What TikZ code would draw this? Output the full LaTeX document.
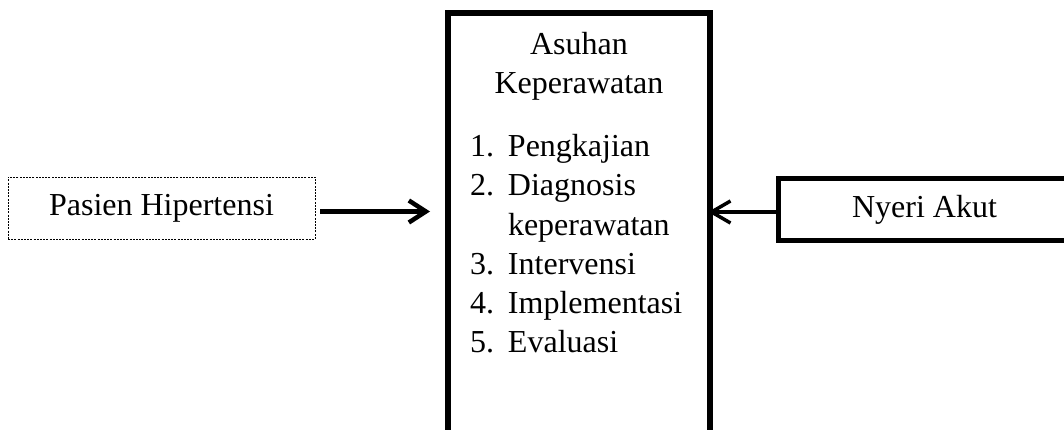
\documentclass[tikz,border=0pt]{standalone}
\usepackage{fontspec}
\setmainfont{Liberation Serif}
\usetikzlibrary{arrows.meta}
\begin{document}
\begin{tikzpicture}[x=1pt,y=-1pt,
  txt/.style={inner sep=0pt,outer sep=0pt,font=\fontsize{32}{39}\selectfont},
  listline/.style={txt,anchor=base west},
  dashbox/.style={draw,line width=0.8pt,dash pattern=on 2pt off 1.2pt,inner sep=0pt,outer sep=0pt,
    minimum width=307pt,minimum height=62pt,font=\fontsize{32}{39}\selectfont},
  bigbox/.style={draw,line width=6pt,inner sep=0pt,outer sep=0pt,minimum width=262pt,minimum height=457pt},
  solidbox/.style={draw,line width=5pt,inner sep=0pt,outer sep=0pt,minimum width=292pt,minimum height=61.5pt,
    font=\fontsize{32}{39}\selectfont},
  arrL/.style={line width=4.5pt,-{Straight Barb[length=17pt,width=22pt]}},
  arrR/.style={line width=3.5pt,-{Straight Barb[length=19pt,width=22pt]}}]
\useasboundingbox (0,0) rectangle (1064,430);
\node[dashbox] (pas) at (161.5,208) {Pasien Hipertensi};
\node[bigbox] (ask) at (579,241.5) {};
\node[solidbox] (nyeri) at (924.5,209.75) {Nyeri Akut};
\node[txt,anchor=base] (t1) at (579,55) {Asuhan};
\node[txt,anchor=base] (t2) at (579,94) {Keperawatan};
\node[listline] (l1) at (470,157) {\makebox[38pt][l]{1.}Pengkajian};
\node[listline] (l2) at (470,196) {\makebox[38pt][l]{2.}Diagnosis};
\node[listline] (l3) at (470,235) {\makebox[38pt][l]{}keperawatan};
\node[listline] (l4) at (470,274) {\makebox[38pt][l]{3.}Intervensi};
\node[listline] (l5) at (470,313) {\makebox[38pt][l]{4.}Implementasi};
\node[listline] (l6) at (470,352) {\makebox[38pt][l]{5.}Evaluasi};
\draw[arrL,shorten <=5pt,shorten >=18pt] ([yshift=-3.5pt]pas.east) -- ([yshift=-3.5pt]pas.east -| ask.west);
\draw[arrR,shorten <=3pt,shorten >=-2pt] ([yshift=-2.25pt]nyeri.west) -- ([yshift=-2.25pt]nyeri.west -| ask.east);
\end{tikzpicture}
\end{document}
